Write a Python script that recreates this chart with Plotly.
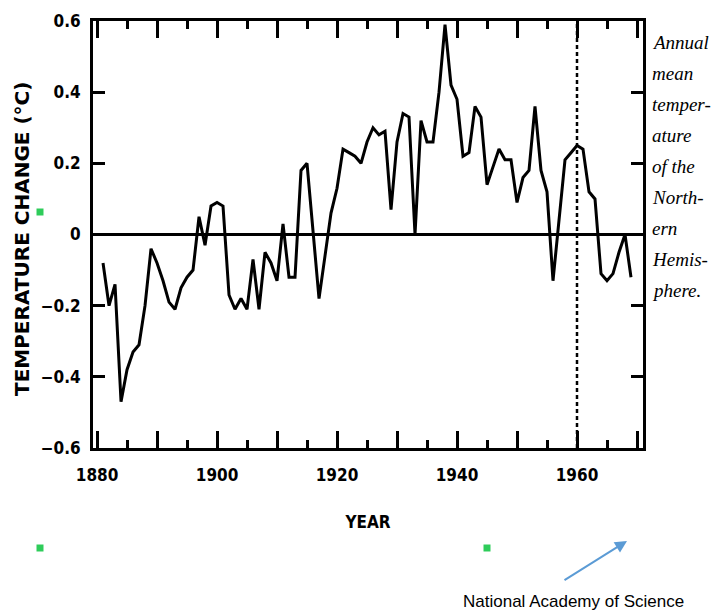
import plotly.graph_objects as go

# ---- data ----
years = list(range(1881, 1970))
temp_change = [
    -0.08, -0.20, -0.14, -0.47, -0.38, -0.33, -0.31, -0.20, -0.04, -0.08,   # 1881-1890
    -0.13, -0.19, -0.21, -0.15, -0.12, -0.10, 0.05, -0.03, 0.08, 0.09,      # 1891-1900
    0.08, -0.17, -0.21, -0.18, -0.21, -0.07, -0.21, -0.05, -0.08, -0.13,    # 1901-1910
    0.03, -0.12, -0.12, 0.18, 0.20, 0.00, -0.18, -0.06, 0.06, 0.13,         # 1911-1920
    0.24, 0.23, 0.22, 0.20, 0.26, 0.30, 0.28, 0.29, 0.07, 0.26,             # 1921-1930
    0.34, 0.33, 0.00, 0.32, 0.26, 0.26, 0.40, 0.59, 0.42, 0.38,             # 1931-1940
    0.22, 0.23, 0.36, 0.33, 0.14, 0.19, 0.24, 0.21, 0.21, 0.09,             # 1941-1950
    0.16, 0.18, 0.36, 0.18, 0.12, -0.13, 0.05, 0.21, 0.23, 0.25,            # 1951-1960
    0.24, 0.12, 0.10, -0.11, -0.13, -0.11, -0.05, 0.00, -0.12,              # 1961-1969
]

x_major_ticks = [1880, 1890, 1900, 1910, 1920, 1930, 1940, 1950, 1960, 1970]
x_major_labels = ["1880", "", "1900", "", "1920", "", "1940", "", "1960", ""]
x_minor_ticks = [1885, 1895, 1905, 1915, 1925, 1935, 1945, 1955, 1965]
y_ticks = [-0.6, -0.4, -0.2, 0.0, 0.2, 0.4, 0.6]
y_labels = ["\u22120.6", "\u22120.4", "\u22120.2", "0", "0.2", "0.4", "0.6"]
marker_year = 1960

side_lines = ["Annual", "mean", "temper-", "ature", "of the",
              "North-", "ern", "Hemis-", "phere."]

# ---- figure geometry ----
W, H = 717, 616
L, R, T, B = 93, 74, 21, 168
PW, PH = W - L - R, H - T - B


def px(xp):
    return (xp - L) / PW


def py(yp):
    return (H - B - yp) / PH


tick_font = dict(family="DejaVu Sans Condensed, DejaVu Sans", size=17, color="black", weight="bold")

fig = go.Figure()
fig.add_trace(go.Scatter(
    x=years, y=temp_change, mode="lines",
    line=dict(color="black", width=3), showlegend=False, hoverinfo="skip",
))

fig.add_shape(type="line", xref="x", yref="paper", x0=marker_year, x1=marker_year, y0=0, y1=1,
              line=dict(color="black", width=2.5, dash="4px,3px"))

fig.update_xaxes(
    range=[1879.33, 1971.0], showgrid=False, zeroline=False,
    showline=True, linecolor="black", linewidth=3, mirror="ticks",
    ticks="inside", ticklen=17, tickwidth=2.5, tickcolor="black",
    tickmode="array", tickvals=x_major_ticks, ticktext=x_major_labels,
    tickfont=tick_font, ticklabelstandoff=10,
    minor=dict(tickmode="array", tickvals=x_minor_ticks, ticks="inside",
               ticklen=8, tickwidth=2.5, tickcolor="black"),
    title=dict(text="YEAR", font=dict(family="DejaVu Sans Condensed, DejaVu Sans", size=17,
                                      color="black", weight="bold"), standoff=32),
)
fig.update_yaxes(
    range=[-0.6, 0.6], showgrid=False,
    zeroline=True, zerolinecolor="black", zerolinewidth=3,
    showline=True, linecolor="black", linewidth=3, mirror="ticks",
    ticks="inside", ticklen=12, tickwidth=2.5, tickcolor="black",
    tickmode="array", tickvals=y_ticks, ticktext=y_labels,
    tickfont=tick_font, ticklabelstandoff=6,
)

annotations = []
# y-axis title
annotations.append(dict(
    text="TEMPERATURE CHANGE (°C)", xref="paper", yref="paper",
    x=px(22), y=py(239), textangle=-90, showarrow=False,
    font=dict(family="DejaVu Sans", size=20, color="black", weight="bold"),
    xanchor="center", yanchor="middle",
))
# side caption
for i, line in enumerate(side_lines):
    annotations.append(dict(
        text=line, xref="paper", yref="paper",
        x=px(650), y=py(43 + 30.9 * i), showarrow=False,
        xanchor="left", yanchor="middle",
        font=dict(family="Liberation Serif", size=19, color="black", style="italic"),
    ))
# source note with arrow
annotations.append(dict(
    text="National Academy of Science", xref="paper", yref="paper",
    x=px(573), y=py(601), showarrow=False, xanchor="center", yanchor="middle",
    font=dict(family="Liberation Sans Narrow, Liberation Sans", size=17, color="black"),
))
annotations.append(dict(
    text="", xref="paper", yref="paper", x=px(627), y=py(541),
    ax=-64, ay=40, showarrow=True, arrowhead=2, arrowsize=1.2,
    arrowwidth=2, arrowcolor="#5b9bd5",
))

# small green dots (scan marks)
shapes = []
for (gx, gy) in [(40, 212), (40, 548), (487, 548)]:
    shapes.append(dict(type="rect", xref="paper", yref="paper",
                       x0=px(gx - 3.5), x1=px(gx + 3.5), y0=py(gy + 3.5), y1=py(gy - 3.5),
                       fillcolor="#2ecc5a", line=dict(width=0), layer="above"))

fig.update_layout(
    width=W, height=H, margin=dict(l=L, r=R, t=T, b=B),
    paper_bgcolor="white", plot_bgcolor="white",
    annotations=annotations,
)
for s in shapes:
    fig.add_shape(**s)

fig.write_html(
    "out.html",
    config={"displayModeBar": False},
    post_script="document.body.style.margin='0';document.body.style.padding='0';",
)
